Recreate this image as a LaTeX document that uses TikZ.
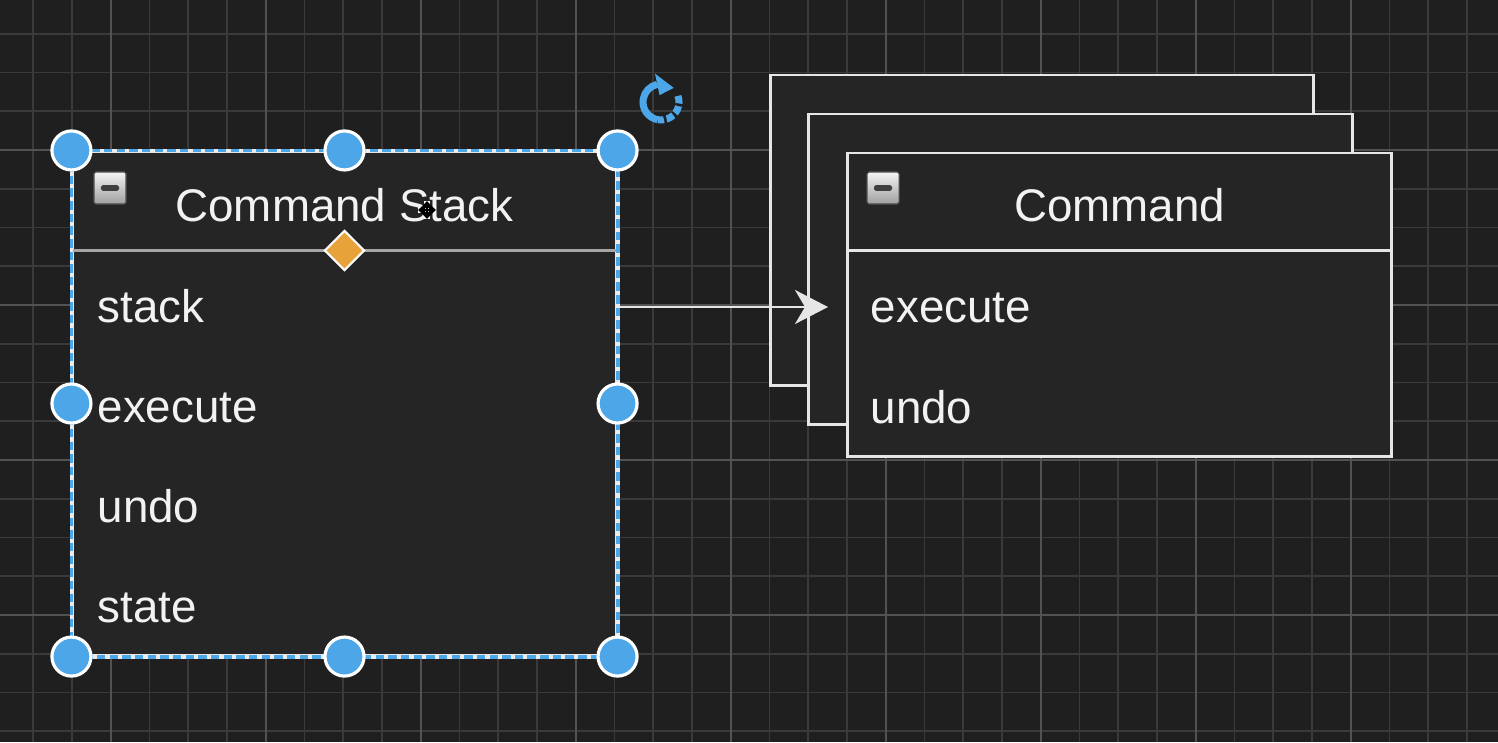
\documentclass[tikz,border=0pt]{standalone}
\usepackage{fontspec}
\setmainfont{Liberation Sans}
\usetikzlibrary{arrows.meta,positioning,shapes.geometric}
\definecolor{canvasbg}{HTML}{1F1F1F}
\definecolor{boxfill}{HTML}{252525}
\definecolor{gridminor}{HTML}{3A3A3A}
\definecolor{gridmajor}{HTML}{525252}
\definecolor{boxline}{HTML}{E6E6E6}
\definecolor{selblue}{HTML}{4DA6E8}
\definecolor{handleorange}{HTML}{E8A23A}
\tikzset{
	umlbox/.style={draw=boxline, fill=boxfill, line width=0.8pt, inner sep=0pt},
	title/.style={text=white!95!black, font=\fontsize{13}{15}\selectfont},
	row/.style={text=white!95!black, font=\fontsize{13}{15}\selectfont, anchor=base west, inner sep=0pt},
	handle/.style={circle, fill=selblue, draw=white, line width=0.9pt, minimum size=0.39cm, inner sep=0pt},
	collapse/.style={rectangle, rounded corners=0.5pt, top color=white!92!gray, bottom color=gray!75, draw=gray!60!black, line width=0.3pt, minimum size=0.32cm, inner sep=0pt,
		path picture={\fill[black!75] ([xshift=-0.09cm,yshift=-0.028cm]path picture bounding box.center) rectangle ++(0.18cm,0.056cm);}},
	flow/.style={draw=boxline, line width=0.7pt, -{Stealth[length=0.33cm, width=0.34cm, inset=0.1cm]}}
}
\begin{document}
\begin{tikzpicture}[x=0.01cm, y=-0.01cm]
	\useasboundingbox (0,0) rectangle (1498,742);
	\fill[canvasbg] (0,0) rectangle (1498,742);
	% grid
	\foreach \i in {0,...,38} {
		\draw[gridminor, line width=0.45pt] ({33.25+38.75*\i},0) -- ({33.25+38.75*\i},742);
	}
	\foreach \i in {0,...,19} {
		\draw[gridminor, line width=0.45pt] (0,{33.75+38.75*\i}) -- (1498,{33.75+38.75*\i});
	}
	\foreach \i in {0,...,9} {
		\draw[gridmajor, line width=0.5pt] ({110.75+155*\i},0) -- ({110.75+155*\i},742);
	}
	\foreach \i in {0,...,4} {
		\draw[gridmajor, line width=0.5pt] (0,{150+155*\i}) -- (1498,{150+155*\i});
	}

	% Command Stack
	\node[umlbox, minimum width=5.43cm, minimum height=5.03cm] (cstack) at (344.5,403.5) {};
	\draw[gray!70, line width=0.6pt] ([yshift=-1cm]cstack.north west) -- ([yshift=-1cm]cstack.north east);
	\node[collapse] (csicon) at (110,188) {};
	\node[title] (cstitle) at (344.5,205) {Command Stack};
	\foreach \t [count=\i] in {stack,execute,undo,state}
		\node[row] (csrow\i) at (97,{222+100*\i}) {\t};

	% Command (stacked)
	\node[umlbox, minimum width=5.43cm, minimum height=3.10cm] (cmdback) at (1042,230) {};
	\node[umlbox, minimum width=5.43cm, minimum height=3.10cm] (cmdmid) at (1080.5,269) {};
	\node[umlbox, minimum width=5.43cm, minimum height=3.03cm] (cmd) at (1119.5,304.5) {};
	\draw[boxline, line width=0.8pt] ([yshift=-0.99cm]cmd.north west) -- ([yshift=-0.99cm]cmd.north east);
	\node[collapse] (cmdicon) at (883,188) {};
	\node[title] (cmdtitle) at (1119.5,205) {Command};
	\node[row] (cmdexec) at (870,322) {execute};
	\node[row] (cmdundo) at (870,423) {undo};

	\coordinate (cmdin) at (828,307);
	\draw[flow] (cstack.east |- cmdin) -- (cmdin);

	% selection
	\draw[white!85!gray, line width=1.1pt] (cstack.north west) rectangle (cstack.south east);
	\draw[selblue, line width=1.1pt, dash pattern=on 2.4pt off 1.2pt] (cstack.north west) rectangle (cstack.south east);
	\foreach \a [count=\i] in {north west,north,north east,west,east,south west,south,south east}
		\node[handle] (hdl\i) at (cstack.\a) {};
	\node[diamond, fill=handleorange, draw=white, line width=0.6pt, minimum size=0.4cm, inner sep=0pt] (rsz) at ([yshift=-1cm]cstack.north) {};
	\begin{scope}[shift={(661,102)}, x=1cm, y=1cm]
		\draw[selblue, line width=2pt] (-100:0.18) arc[start angle=-100, end angle=-258, radius=0.18];
		\draw[selblue, line width=2pt, dash pattern=on 2.2pt off 0.8pt] (20:0.18) arc[start angle=20, end angle=-100, radius=0.18];
		\fill[selblue] (102:0.29) -- (102:0.07) -- (48:0.19) -- cycle;
	\end{scope}

	% cursor
	\draw[white, line width=1.6pt] (418,210) -- (436,210) (427,201) -- (427,219);
	\draw[black, line width=0.5pt, {Triangle[length=2pt,width=3.5pt]}-{Triangle[length=2pt,width=3.5pt]}] (418,210) -- (436,210);
	\draw[black, line width=0.5pt, {Triangle[length=2pt,width=3.5pt]}-{Triangle[length=2pt,width=3.5pt]}] (427,201) -- (427,219);
\end{tikzpicture}
\end{document}
